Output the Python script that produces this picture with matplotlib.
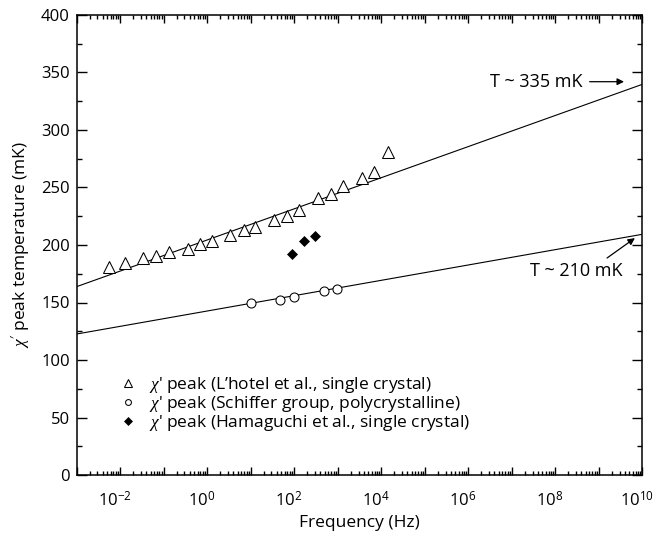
import numpy as np
import matplotlib
matplotlib.use('Agg')
import matplotlib.pyplot as plt
from matplotlib.ticker import LogLocator, FuncFormatter, MultipleLocator, NullFormatter
from matplotlib.transforms import ScaledTranslation

plt.rcParams['font.family'] = ['Open Sans', 'DejaVu Sans']
plt.rcParams['mathtext.fontset'] = 'custom'
plt.rcParams['mathtext.rm'] = 'Open Sans'
plt.rcParams['mathtext.it'] = 'Liberation Serif:italic'

# ---- data ----
lhotel_freq = [0.0056, 0.0127, 0.0335, 0.066, 0.131, 0.353, 0.69, 1.28, 3.4, 7.1,
               12.6, 34, 70, 130, 350, 700, 1320, 3530, 6900, 14000]
lhotel_T = [181, 184, 188.5, 190.5, 193.5, 196.5, 200.5, 203.5, 208.5, 213,
            215.5, 221.5, 225.5, 230.5, 240.5, 244, 251.5, 258.5, 263.5, 280.5]

schiffer_freq = [10, 48, 98, 480, 970]
schiffer_T = [149.3, 152.2, 154.8, 160, 162]

hamaguchi_freq = [91, 169, 303]
hamaguchi_T = [192, 203.7, 207.8]

fit_freq = [1e-3, 1e10]
fit_upper_T = [163.8, 339.7]
fit_lower_T = [122.6, 209.3]

legend_labels = ["$\\chi$' peak (L\u2019hotel et al., single crystal)",
                 "$\\chi$' peak (Schiffer group, polycrystalline)",
                 "$\\chi$' peak (Hamaguchi et al., single crystal)"]

W, H = 657, 539
fig = plt.figure(figsize=(W / 100, H / 100), dpi=100)
ax = fig.add_axes([76.7 / W, 1 - 475 / H, (642.3 - 76.7) / W, 460 / H])

ax.plot(fit_freq, fit_upper_T, color='black', lw=0.8)
ax.plot(fit_freq, fit_lower_T, color='black', lw=0.8)

h1, = ax.plot(lhotel_freq, lhotel_T, ls='none', marker='^', ms=8.5, mfc='white',
              mec='black', mew=0.75, label=legend_labels[0])
h2, = ax.plot(schiffer_freq, schiffer_T, ls='none', marker='o', ms=6.5, mfc='white',
              mec='black', mew=0.75, label=legend_labels[1])
h3, = ax.plot(hamaguchi_freq, hamaguchi_T, ls='none', marker='D', ms=5.6, mfc='black',
              mec='black', mew=0.5, label=legend_labels[2])

ax.set_xscale('log')
ax.set_xlim(1e-3, 1e10)
ax.set_ylim(0, 400)

ax.xaxis.set_major_locator(LogLocator(base=10, numticks=30))
ax.xaxis.set_minor_locator(LogLocator(base=10, subs=np.arange(2, 10), numticks=30))
ax.xaxis.set_minor_formatter(NullFormatter())

def xfmt(v, pos):
    e = int(round(np.log10(v)))
    return r'$10^{%d}$' % e if e % 2 == 0 else ''

ax.xaxis.set_major_formatter(FuncFormatter(xfmt))
ax.yaxis.set_major_locator(MultipleLocator(50))
ax.yaxis.set_minor_locator(MultipleLocator(25))

for s in ax.spines.values():
    s.set_linewidth(1.1)

ax.tick_params(which='both', direction='in', top=True, right=True, width=1.0,
               labelsize=12, colors='black')
ax.tick_params(axis='y', which='major', length=7.2, pad=5)
ax.tick_params(axis='y', which='minor', length=3.6)
ax.tick_params(axis='x', which='major', length=5.5, pad=12)
ax.tick_params(axis='x', which='minor', length=3.0)

ax.set_xlabel('Frequency (Hz)', fontsize=12.5, labelpad=3)
ax.set_ylabel(r"$\chi'$ peak temperature (mK)", fontsize=12.5, labelpad=6)

leg = ax.legend(handles=[h1, h2, h3], loc='upper left',
                bbox_to_anchor=((118 - 76.7) / (642.3 - 76.7), (475 - 375) / 460),
                frameon=False, fontsize=12.5, markerscale=0.65, handlelength=1.2,
                handletextpad=0.6, labelspacing=-0.05, borderpad=0, borderaxespad=0)

ax.annotate('T ~ 335 mK', xy=(10**9.58, 342), xytext=(10**8.63, 342),
            ha='right', va='center', fontsize=13,
            arrowprops=dict(arrowstyle='-|>', color='black', lw=0.9,
                            mutation_scale=10, shrinkA=3, shrinkB=0))
ax.text(10**8.49, 177.4, 'T ~ 210 mK', ha='center', va='center', fontsize=13)
ax.annotate('', xy=(10**9.83, 206), xytext=(10**9.19, 188.7),
            arrowprops=dict(arrowstyle='-|>', color='black', lw=0.9,
                            mutation_scale=10, shrinkA=0, shrinkB=0))

fig.canvas.draw()
shift = ScaledTranslation(-4 / 72, 0, fig.dpi_scale_trans)
for t in ax.xaxis.get_major_ticks():
    t.label1.set_transform(t.label1.get_transform() + shift)

fig.savefig('out.png', dpi=100)
